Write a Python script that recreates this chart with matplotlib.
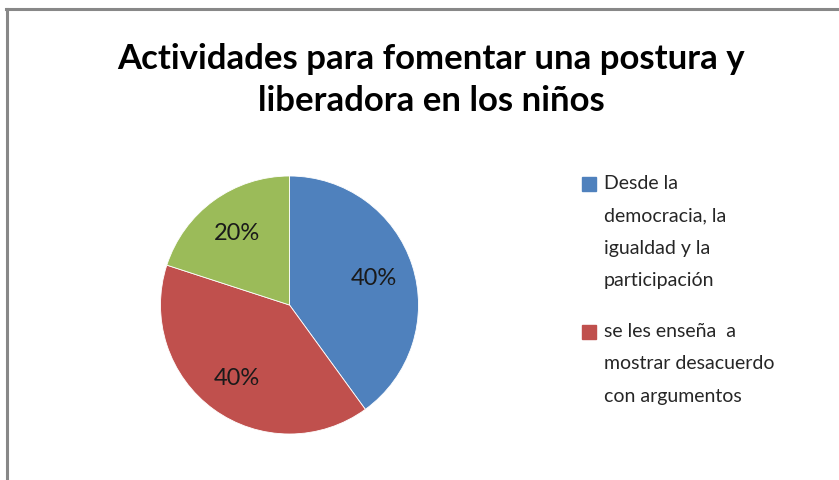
import matplotlib
matplotlib.use('Agg')
from matplotlib import pyplot as plt
from matplotlib.patches import Rectangle
from matplotlib.lines import Line2D

# data
labels = ['Desde la\ndemocracia, la\nigualdad y la\nparticipación',
          'se les enseña  a\nmostrar desacuerdo\ncon argumentos',
          '']
values = [40, 40, 20]
colors = ['#4F81BD', '#C0504D', '#9BBB59']
title = 'Actividades para fomentar una postura y\nliberadora en los niños'

W, H = 839, 481
fig = plt.figure(figsize=(W / 100, H / 100), dpi=100)
plt.rcParams['font.family'] = ['Lato', 'DejaVu Sans']

# chart border (top and left only visible)
fig.add_artist(Line2D([6 / W, 1], [1 - 10 / H, 1 - 10 / H], color='#888888', lw=2.2))
fig.add_artist(Line2D([7 / W, 7 / W], [0, 1 - 10 / H], color='#888888', lw=2.2))

fig.text(431 / W, 1 - 80 / H, title, ha='center', va='center', fontsize=25,
         fontweight='bold', color='black', linespacing=1.38)

cx, cy, r = 289.5, 306, 130
ax = fig.add_axes([(cx - r) / W, (H - cy - r) / H, 2 * r / W, 2 * r / H])
wedges, texts, autotexts = ax.pie(values, colors=colors, startangle=90, counterclock=False,
                                  radius=129 / 130, autopct='%1.0f%%', pctdistance=0.69,
                                  wedgeprops=dict(edgecolor='white', linewidth=0.6),
                                  textprops=dict(fontsize=17, color='#1a1a1a'))
ax.set_xlim(-1, 1)
ax.set_ylim(-1, 1)
ax.set_aspect('equal')
ax.axis('off')

# legend, only the first two entries
leg_y = [185, 333]
for i in range(2):
    y = leg_y[i]
    fig.add_artist(Rectangle((582 / W, 1 - (y + 7) / H), 14 / W, 14 / H,
                             color=colors[i], transform=fig.transFigure))
    fig.text(604 / W, 1 - (y - 10) / H, labels[i], ha='left', va='top', fontsize=14,
             color='#262626', linespacing=2.1)

fig.savefig('out.png', dpi=100)
